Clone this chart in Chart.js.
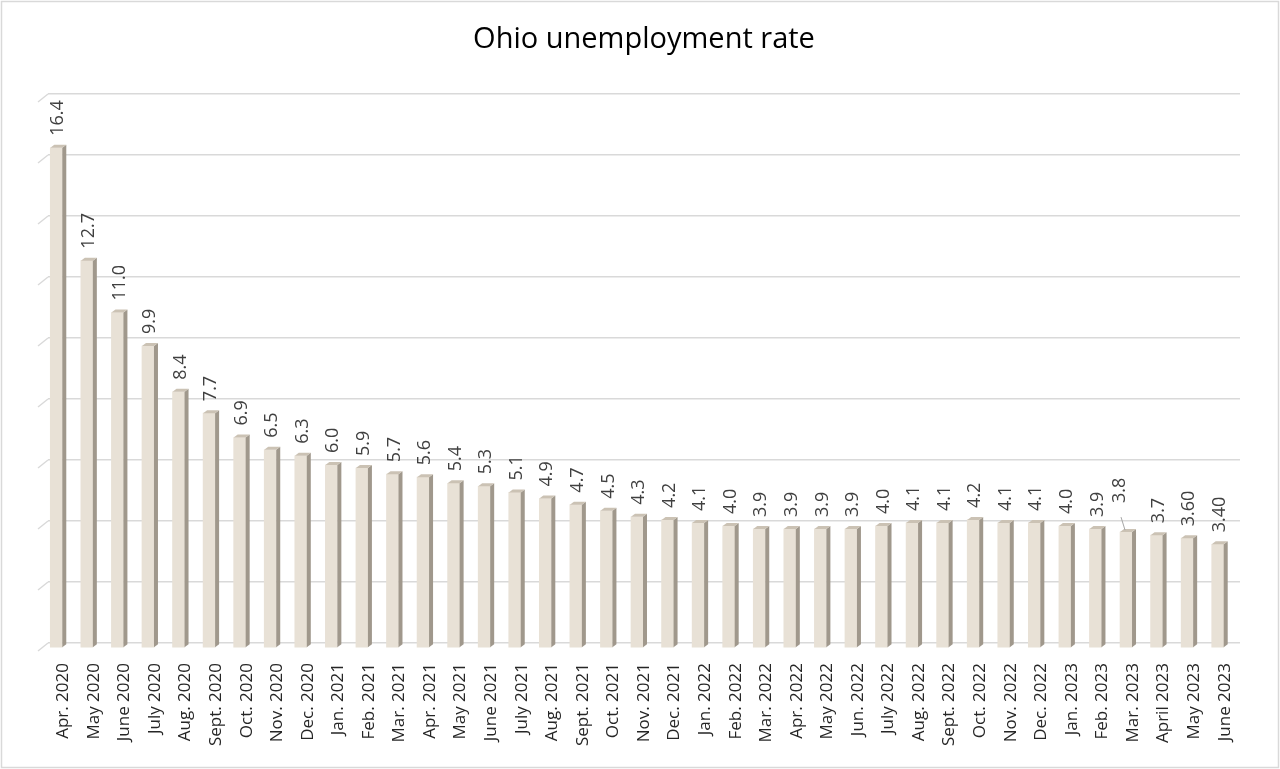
<!DOCTYPE html>
<html>
<head>
<meta charset="utf-8">
<title>Ohio unemployment rate</title>
<script src="https://cdn.jsdelivr.net/npm/chart.js@4/dist/chart.umd.min.js"></script>
<style>
  html, body { margin: 0; padding: 0; background: #fff; }
  canvas { display: block; }
</style>
</head>
<body>
<canvas id="chart" width="1280" height="769"></canvas>
<script>
// data
var months = [
  "Apr. 2020", "May 2020", "June 2020", "July 2020", "Aug. 2020", "Sept. 2020",
  "Oct. 2020", "Nov. 2020", "Dec. 2020", "Jan. 2021", "Feb. 2021", "Mar. 2021",
  "Apr. 2021", "May 2021", "June 2021", "July 2021", "Aug. 2021", "Sept. 2021",
  "Oct. 2021", "Nov. 2021", "Dec. 2021", "Jan. 2022", "Feb. 2022", "Mar. 2022",
  "Apr. 2022", "May 2022", "Jun. 2022", "July 2022", "Aug. 2022", "Sept. 2022",
  "Oct. 2022", "Nov. 2022", "Dec. 2022", "Jan. 2023", "Feb. 2023", "Mar. 2023",
  "April 2023", "May 2023", "June 2023"
];
var rates = [
  16.4, 12.7, 11.0, 9.9, 8.4, 7.7, 6.9, 6.5, 6.3, 6.0, 5.9, 5.7, 5.6, 5.4, 5.3,
  5.1, 4.9, 4.7, 4.5, 4.3, 4.2, 4.1, 4.0, 3.9, 3.9, 3.9, 3.9, 4.0, 4.1, 4.1,
  4.2, 4.1, 4.1, 4.0, 3.9, 3.8, 3.7, 3.60, 3.40
];
// the two last labels are printed with two decimals in the original
var rateLabels = [
  "16.4", "12.7", "11.0", "9.9", "8.4", "7.7", "6.9", "6.5", "6.3", "6.0", "5.9",
  "5.7", "5.6", "5.4", "5.3", "5.1", "4.9", "4.7", "4.5", "4.3", "4.2", "4.1",
  "4.0", "3.9", "3.9", "3.9", "3.9", "4.0", "4.1", "4.1", "4.2", "4.1", "4.1",
  "4.0", "3.9", "3.8", "3.7", "3.60", "3.40"
];
var yTicks = [0, 2, 4, 6, 8, 10, 12, 14, 16, 18];

var FONT = "'Open Sans', 'DejaVu Sans', sans-serif";
var FRONT = "#e8e1d6";
var SIDE = "#a0988c";
var TOP = "#cbc2b4";
var GRID = "#d9d9d9";
// bars sit in front of the back wall
var SHIFT_X = -7, SHIFT_Y = 5;
var DEPTH_X = 4, DEPTH_Y = 3;

var frame = {
  id: "frame",
  beforeDraw: function(chart) {
    var ctx = chart.ctx;
    ctx.save();
    ctx.fillStyle = "#fff";
    ctx.fillRect(0, 0, chart.width, chart.height);
    ctx.strokeStyle = GRID;
    ctx.lineWidth = 1.5;
    ctx.strokeRect(1.5, 1.5, chart.width - 3, chart.height - 3);
    ctx.restore();
  }
};

var wall = {
  id: "wall",
  beforeDatasetsDraw: function(chart) {
    var ctx = chart.ctx, y = chart.scales.y, left = chart.chartArea.left;
    ctx.save();
    ctx.strokeStyle = GRID;
    ctx.lineWidth = 1.5;
    yTicks.forEach(function(v) {
      var py = y.getPixelForValue(v);
      ctx.beginPath();
      ctx.moveTo(left - 10, py + 8);
      ctx.lineTo(left, py);
      ctx.stroke();
    });
    ctx.restore();
    ctx.save();
    ctx.translate(SHIFT_X, SHIFT_Y);
  },
  afterDatasetsDraw: function(chart) {
    var ctx = chart.ctx;
    var bars = chart.getDatasetMeta(0).data;
    bars.forEach(function(b) {
      var l = b.x - b.width / 2, r = b.x + b.width / 2;
      ctx.fillStyle = SIDE;
      ctx.beginPath();
      ctx.moveTo(r, b.y);
      ctx.lineTo(r + DEPTH_X, b.y - DEPTH_Y);
      ctx.lineTo(r + DEPTH_X, b.base - DEPTH_Y);
      ctx.lineTo(r, b.base);
      ctx.closePath();
      ctx.fill();
      ctx.fillStyle = TOP;
      ctx.beginPath();
      ctx.moveTo(l, b.y);
      ctx.lineTo(l + DEPTH_X, b.y - DEPTH_Y);
      ctx.lineTo(r + DEPTH_X, b.y - DEPTH_Y);
      ctx.lineTo(r, b.y);
      ctx.closePath();
      ctx.fill();
    });

    // value labels, written upwards above each bar
    ctx.font = "18px " + FONT;
    ctx.fillStyle = "#404040";
    ctx.textAlign = "left";
    ctx.textBaseline = "middle";
    bars.forEach(function(b, i) {
      var cx = b.x + 2, by = b.y - 12;
      if (i === 35) {
        // moved label with a leader line, as in the original
        ctx.strokeStyle = "#a6a6a6";
        ctx.lineWidth = 1;
        ctx.beginPath();
        ctx.moveTo(b.x - 1, b.y - 2);
        ctx.lineTo(b.x - 5, b.y - 15);
        ctx.stroke();
        cx = b.x - 6;
        by = b.y - 29;
      }
      ctx.save();
      ctx.translate(cx, by);
      ctx.rotate(-Math.PI / 2);
      ctx.fillText(rateLabels[i], 0, 0);
      ctx.restore();
    });
    ctx.restore();
  }
};

new Chart(document.getElementById("chart"), {
  type: "bar",
  data: {
    labels: months,
    datasets: [{
      data: rates,
      backgroundColor: FRONT,
      borderWidth: 0,
      barThickness: 12
    }]
  },
  options: {
    responsive: false,
    devicePixelRatio: 1,
    animation: false,
    layout: { padding: { left: 48, right: 40, top: 0, bottom: 0 } },
    plugins: {
      legend: { display: false },
      tooltip: { enabled: false },
      title: {
        display: true,
        text: "Ohio unemployment rate",
        color: "#000",
        font: { family: FONT, size: 29, weight: "normal" },
        padding: { top: 22, bottom: 37.2 }
      }
    },
    scales: {
      x: {
        grid: { display: false, drawTicks: false },
        border: { display: false },
        ticks: {
          color: "#262626",
          font: { family: FONT, size: 17 },
          minRotation: 90,
          maxRotation: 90,
          autoSkip: false,
          padding: 20
        },
        afterFit: function(s) { s.height = 126; }
      },
      y: {
        min: 0,
        max: 18,
        afterBuildTicks: function(s) {
          s.ticks = yTicks.map(function(v) { return { value: v }; });
        },
        grid: { color: GRID, lineWidth: 1.5, drawTicks: false },
        border: { display: false },
        ticks: { display: false },
        afterFit: function(s) { s.width = 0; }
      }
    }
  },
  plugins: [frame, wall]
});
</script>
</body>
</html>
